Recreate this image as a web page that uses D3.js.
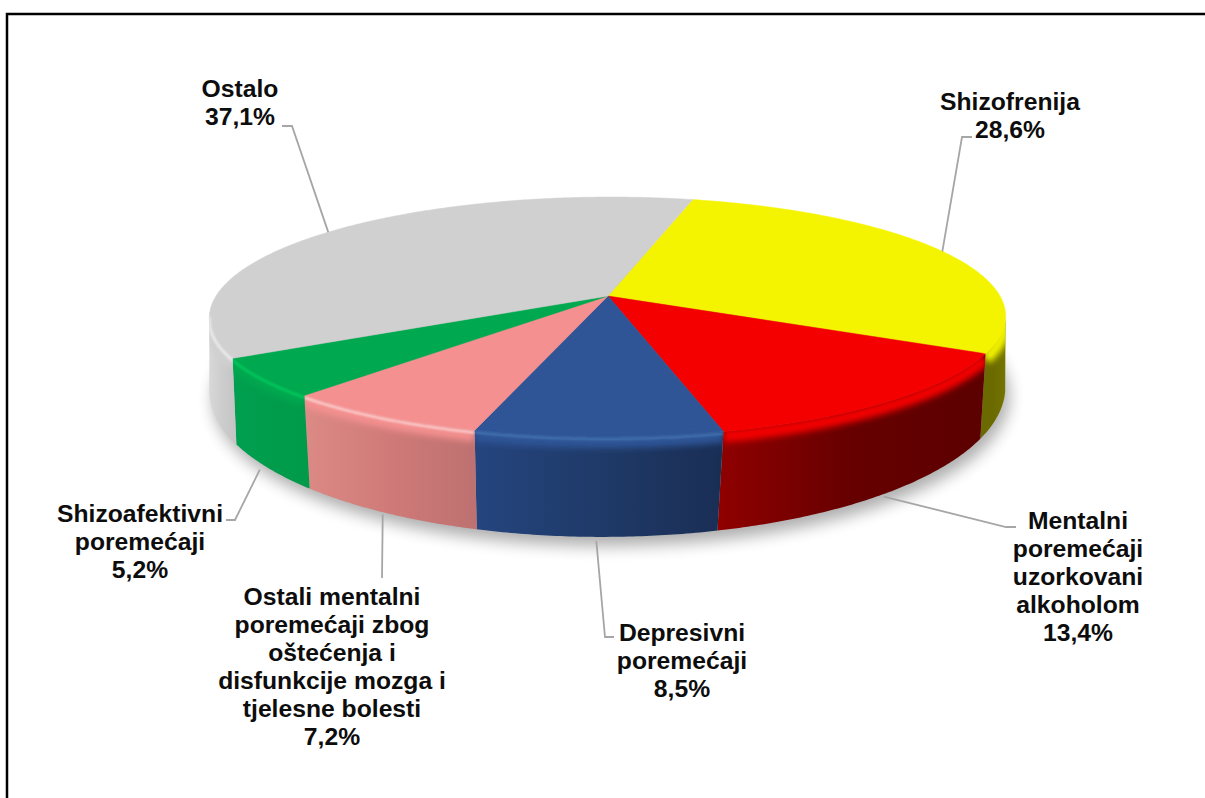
<!DOCTYPE html>
<html>
<head>
<meta charset="utf-8">
<script src="https://cdn.jsdelivr.net/npm/d3@7"></script>
<style>
	html, body { margin: 0; padding: 0; background: #ffffff; }
	svg { display: block; }
</style>
</head>
<body>
<div id="chart"></div>
<script>
// values in clockwise order, starting with the yellow slice
var categories = ["Shizofrenija", "Mentalni poremećaji uzorkovani alkoholom", "Depresivni poremećaji", "Ostali mentalni poremećaji zbog oštećenja i disfunkcije mozga i tjelesne bolesti", "Shizoafektivni poremećaji", "Ostalo"];
var percentValues = [28.6, 13.4, 8.5, 7.2, 5.2, 37.1];
var percentLabels = ["28,6%", "13,4%", "8,5%", "7,2%", "5,2%", "37,1%"];
var labelLines = [
	["Shizofrenija"],
	["Mentalni", "poremećaji", "uzorkovani", "alkoholom"],
	["Depresivni", "poremećaji"],
	["Ostali mentalni", "poremećaji zbog", "oštećenja i", "disfunkcije mozga i", "tjelesne bolesti"],
	["Shizoafektivni", "poremećaji"],
	["Ostalo"]
];

var faceColors = ["#f4f400", "#f50000", "#2f5597", "#f49090", "#00a84f", "#d0d0d0"];
var sideStops = [
	["#6a6a00", "#6a6a00", "#747400"],
	["#900000", "#660000", "#5c0000"],
	["#25457f", "#1f3a68", "#1a2e55"],
	["#dc8a85", "#cf7a78", "#bd7170"],
	["#00a050", "#009c4c", "#009a4a"],
	["#d8d8d8", "#cccccc", "#c4c4c4"]
];
// red and yellow have no light line on the bevel
var rimColors = [null, null, "#4574b6", "#ffd0d0", "#00cc5c", "#eeeeee"];

// label placement: centre x, first baseline, elbow of the leader line, end of the leader line
var labelLayout = [
	{x: 1010, y: 110, elbow: [962, 137], end: [972, 137], ring: "top", r: 1},
	{x: 1078, y: 529, elbow: [1006, 527], end: [1016, 527], ring: "low", r: 1.01},
	{x: 682, y: 641, elbow: [605, 637], end: [614, 637], ring: "low", r: 1.02},
	{x: 332, y: 605, elbow: [382, 578], end: [382, 578], ring: "low", r: 1.01},
	{x: 140, y: 522, elbow: [235, 520], end: [226, 520], ring: "low", r: 1.02},
	{x: 240, y: 97, elbow: [292, 126], end: [282, 126], ring: "top", r: 1}
];

var width = 1205, height = 798, lineHeight = 28;
var cx = 608;
var rad = Math.PI / 180;
var frontFrom = 99 * rad, frontTo = 261 * rad;

// the disc is seen in perspective, so each rim is a circle pushed through a small homography
var rings = {
	top: {cy: 296, a: 392, b: 116.3, k: 0.175, sh: -3},
	low: {cy: 368, a: 394, b: 145, k: 0.1415, sh: -5}
};

function project(angle, ring, r) {
	var X = Math.sin(angle) * r, Y = -Math.cos(angle) * r;
	var w = 1 - ring.k * Y;
	return [cx + (ring.a * X + ring.sh * Y) / w, ring.cy + ring.b * Y / w];
}

function rim(a0, a1, ring, r) {
	var n = Math.max(2, Math.ceil(Math.abs(a1 - a0) / 0.01));
	return d3.range(n + 1).map(function (i) {
		return project(a0 + (a1 - a0) * i / n, ring, r);
	});
}

var pathOf = d3.line();

var slices = d3.pie().sort(null).value(function (d) { return d; })
	.startAngle(14.2 * rad)
	.endAngle(14.2 * rad + 2 * Math.PI)(percentValues);

var svg = d3.select("#chart").append("svg")
	.attr("width", width)
	.attr("height", height);

var defs = svg.append("defs");

function blurFilter(id, dev) {
	defs.append("filter")
		.attr("id", id)
		.attr("filterUnits", "userSpaceOnUse")
		.attr("x", 0).attr("y", 0)
		.attr("width", width).attr("height", height)
		.append("feGaussianBlur")
		.attr("stdDeviation", dev);
}
blurFilter("shadowBlur", 8);
blurFilter("rimBlur", 3);
blurFilter("lightBlur", 1.2);

// frame
svg.append("path")
	.attr("d", pathOf([[7, height], [7, 14], [width, 14]]))
	.attr("fill", "none")
	.attr("stroke", "#000000")
	.attr("stroke-width", 2.5);

// shadow under the disc
svg.append("path")
	.attr("d", pathOf(rim(0, 2 * Math.PI, rings.low, 1)) + "Z")
	.attr("transform", "translate(4,9)")
	.attr("fill", "#000000")
	.attr("opacity", 0.32)
	.attr("filter", "url(#shadowBlur)");

// sides first, only the part of the rim facing the viewer
slices.forEach(function (d, i) {
	var a0 = Math.max(d.startAngle, frontFrom), a1 = Math.min(d.endAngle, frontTo);
	if (a1 <= a0) return;
	var pts = rim(a0, a1, rings.top, 1).concat(rim(a1, a0, rings.low, 1));
	var xr = d3.extent(pts, function (p) { return p[0]; });

	var grad = defs.append("linearGradient")
		.attr("id", "side" + i)
		.attr("gradientUnits", "userSpaceOnUse")
		.attr("x1", xr[0]).attr("x2", xr[1])
		.attr("y1", 0).attr("y2", 0);
	sideStops[i].forEach(function (c, j) {
		grad.append("stop").attr("offset", j / 2).attr("stop-color", c);
	});

	svg.append("path")
		.attr("d", pathOf(pts) + "Z")
		.attr("fill", "url(#side" + i + ")");
});

// top face
slices.forEach(function (d, i) {
	var pts = [[cx, rings.top.cy]].concat(rim(d.startAngle, d.endAngle, rings.top, 1));
	svg.append("path")
		.attr("d", pathOf(pts) + "Z")
		.attr("fill", faceColors[i])
		.attr("stroke", faceColors[i])
		.attr("stroke-width", 0.5);
});

// bevel along the front rim
slices.forEach(function (d, i) {
	var b0 = Math.max(d.startAngle, frontFrom), b1 = Math.min(d.endAngle, frontTo);
	if (b1 <= b0) return;

	var clipId = "clip" + i;
	defs.append("clipPath").attr("id", clipId).append("path")
		.attr("d", pathOf([[cx, rings.top.cy], project(b0, rings.top, 1)]
			.concat(rim(b0, b1, rings.low, 1))
			.concat([project(b1, rings.top, 1)])) + "Z");

	var g = svg.append("g").attr("clip-path", "url(#" + clipId + ")");
	g.append("path")
		.attr("d", pathOf(rim(b0, b1, rings.top, 1)))
		.attr("transform", "translate(0,5)")
		.attr("fill", "none")
		.attr("stroke", faceColors[i])
		.attr("stroke-width", 12)
		.attr("filter", "url(#rimBlur)");
	if (rimColors[i]) {
		g.append("path")
			.attr("d", pathOf(rim(b0, b1, rings.top, 1)))
			.attr("transform", "translate(0,2)")
			.attr("fill", "none")
			.attr("stroke", rimColors[i])
			.attr("stroke-width", 2.5)
			.attr("filter", "url(#lightBlur)");
	}
});

// leader lines
slices.forEach(function (d, i) {
	var mid = (d.startAngle + d.endAngle) / 2;
	var l = labelLayout[i];
	var start = project(mid, rings[l.ring], l.r);
	svg.append("path")
		.attr("d", pathOf([start, l.elbow, l.end]))
		.attr("fill", "none")
		.attr("stroke", "#a6a6a6")
		.attr("stroke-width", 1.8);
});

// labels
categories.forEach(function (name, i) {
	var l = labelLayout[i];
	var text = svg.append("text")
		.attr("text-anchor", "middle")
		.attr("font-family", "'Liberation Sans', Arial, sans-serif")
		.attr("font-size", "24.7px")
		.attr("font-weight", "bold")
		.attr("fill", "#0d0d0d");
	labelLines[i].concat([percentLabels[i]]).forEach(function (line, j) {
		text.append("tspan")
			.attr("x", l.x)
			.attr("y", l.y + j * lineHeight)
			.text(line);
	});
});
</script>
</body>
</html>
